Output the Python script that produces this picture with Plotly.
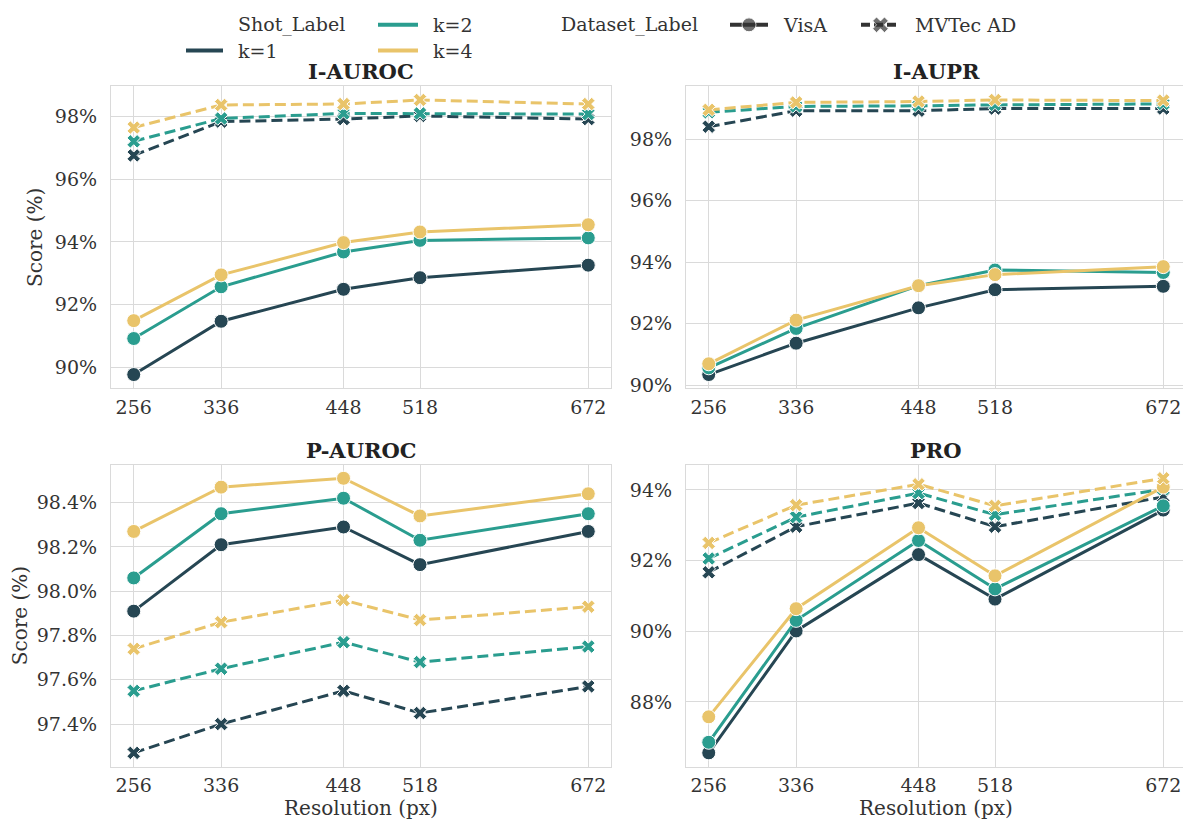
import plotly.graph_objects as go

# resolutions on the x axis
resolutions = [256, 336, 448, 518, 672]
shots = ["k=1", "k=2", "k=4"]
datasets = ["VisA", "MVTec AD"]
metrics = ["I-AUROC", "I-AUPR", "P-AUROC", "PRO"]

# I-AUROC
i_auroc_visa_k1 = [89.77, 91.47, 92.49, 92.86, 93.26]
i_auroc_visa_k2 = [90.92, 92.57, 93.68, 94.05, 94.13]
i_auroc_visa_k4 = [91.49, 92.95, 93.98, 94.32, 94.55]
i_auroc_mvtec_k1 = [96.76, 97.84, 97.92, 98.02, 97.92]
i_auroc_mvtec_k2 = [97.21, 97.94, 98.10, 98.10, 98.08]
i_auroc_mvtec_k4 = [97.65, 98.37, 98.40, 98.53, 98.40]

# I-AUPR
i_aupr_visa_k1 = [90.35, 91.37, 92.52, 93.11, 93.22]
i_aupr_visa_k2 = [90.57, 91.85, 93.24, 93.75, 93.67]
i_aupr_visa_k4 = [90.70, 92.12, 93.24, 93.60, 93.86]
i_aupr_mvtec_k1 = [98.41, 98.93, 98.93, 99.00, 99.00]
i_aupr_mvtec_k2 = [98.88, 99.07, 99.09, 99.12, 99.15]
i_aupr_mvtec_k4 = [98.96, 99.20, 99.23, 99.28, 99.26]

# P-AUROC
p_auroc_visa_k1 = [97.91, 98.21, 98.29, 98.12, 98.27]
p_auroc_visa_k2 = [98.06, 98.35, 98.42, 98.23, 98.35]
p_auroc_visa_k4 = [98.27, 98.47, 98.51, 98.34, 98.44]
p_auroc_mvtec_k1 = [97.27, 97.40, 97.55, 97.45, 97.57]
p_auroc_mvtec_k2 = [97.55, 97.65, 97.77, 97.68, 97.75]
p_auroc_mvtec_k4 = [97.74, 97.86, 97.96, 97.87, 97.93]

# PRO
pro_visa_k1 = [86.56, 90.01, 92.17, 90.91, 93.43]
pro_visa_k2 = [86.86, 90.31, 92.57, 91.20, 93.55]
pro_visa_k4 = [87.58, 90.64, 92.93, 91.57, 94.08]
pro_mvtec_k1 = [91.67, 92.96, 93.63, 92.96, 93.80]
pro_mvtec_k2 = [92.06, 93.23, 93.91, 93.30, 94.02]
pro_mvtec_k4 = [92.50, 93.57, 94.16, 93.55, 94.33]

table = {
    "I-AUROC": {"VisA": [i_auroc_visa_k1, i_auroc_visa_k2, i_auroc_visa_k4],
                "MVTec AD": [i_auroc_mvtec_k1, i_auroc_mvtec_k2, i_auroc_mvtec_k4]},
    "I-AUPR": {"VisA": [i_aupr_visa_k1, i_aupr_visa_k2, i_aupr_visa_k4],
               "MVTec AD": [i_aupr_mvtec_k1, i_aupr_mvtec_k2, i_aupr_mvtec_k4]},
    "P-AUROC": {"VisA": [p_auroc_visa_k1, p_auroc_visa_k2, p_auroc_visa_k4],
                "MVTec AD": [p_auroc_mvtec_k1, p_auroc_mvtec_k2, p_auroc_mvtec_k4]},
    "PRO": {"VisA": [pro_visa_k1, pro_visa_k2, pro_visa_k4],
            "MVTec AD": [pro_mvtec_k1, pro_mvtec_k2, pro_mvtec_k4]},
}

W, H = 1191, 828
FONT = "DejaVu Serif"
TXT = "#333333"
GRID = "#dadada"
colors = ["#264653", "#2a9d8f", "#e9c46a"]
style = {"VisA": dict(dash="solid", symbol="circle"),
         "MVTec AD": dict(dash="11px,5px", symbol="x")}

# panel frames in pixels (left, right, top, bottom)
frames = [(103, 603, 79, 384), (678, 1178, 79, 384),
          (103, 603, 461, 766), (678, 1178, 461, 766)]

fig = go.Figure()

for i, m in enumerate(metrics):
    n = i + 1
    xa = "x" if n == 1 else "x%d" % n
    ya = "y" if n == 1 else "y%d" % n
    for si in range(3):
        for d in datasets:
            fig.add_trace(go.Scatter(
                x=resolutions, y=table[m][d][si], xaxis=xa, yaxis=ya,
                mode="lines+markers", showlegend=False, hoverinfo="skip",
                line=dict(color=colors[si], width=3, dash=style[d]["dash"]),
                marker=dict(symbol=style[d]["symbol"], size=14 if d == "VisA" else 12,
                            color=colors[si], line=dict(color="white", width=1)),
            ))

    allv = [v for d in datasets for s in table[m][d] for v in s]
    lo, hi = min(allv), max(allv)
    pad = (hi - lo) * 0.05
    xpad = (resolutions[-1] - resolutions[0]) * 0.05
    l, r, t, b = frames[i]
    common = dict(showgrid=True, gridcolor=GRID, gridwidth=1, showline=True, linecolor=GRID,
                  linewidth=1.2, mirror=True, zeroline=False, ticks="",
                  tickfont=dict(family=FONT, size=19, color=TXT))
    xkey = "xaxis" if n == 1 else "xaxis%d" % n
    ykey = "yaxis" if n == 1 else "yaxis%d" % n
    fig.layout[xkey] = dict(
        domain=[l / W, r / W], anchor=ya, range=[resolutions[0] - xpad, resolutions[-1] + xpad],
        tickvals=resolutions, ticklabelstandoff=2,
        title=dict(text="Resolution (px)" if i >= 2 else "", font=dict(family=FONT, size=20, color=TXT),
                   standoff=2),
        **common)
    fig.layout[ykey] = dict(
        domain=[1 - b / H, 1 - t / H], anchor=xa, range=[lo - pad, hi + pad],
        dtick=0.2 if m == "P-AUROC" else 2, tickformat=".1f" if m == "P-AUROC" else ".0f",
        ticksuffix="%", ticklabelstandoff=9,
        title=dict(text="Score (%)" if i % 2 == 0 else "", font=dict(family=FONT, size=20, color=TXT),
                   standoff=6),
        **common)
    fig.add_annotation(x=(l + r) / 2 / W, y=1 - t / H, xref="paper", yref="paper",
                       text="<b>%s</b>" % m, showarrow=False, xanchor="center",
                       yanchor="bottom", yshift=0,
                       font=dict(family=FONT, size=21, color="#222222"))

# legend drawn on a hidden pixel-space axis
fig.layout["xaxis5"] = dict(domain=[0, 1], range=[0, W], visible=False, anchor="y5")
fig.layout["yaxis5"] = dict(domain=[1 - 70 / H, 1], range=[70, 0], visible=False, anchor="x5")

handles = [
    # (x0, x1, y, color, dash, symbol, label)
    (178, 215, 43, colors[0], "solid", None, "k=1"),
    (370, 410, 17, colors[1], "solid", None, "k=2"),
    (370, 410, 43, colors[2], "solid", None, "k=4"),
    (722, 760, 17, "#333333", "solid", "circle", "VisA"),
    (853, 892, 17, "#333333", "9px,4px", "x", "MVTec AD"),
]
for x0, x1, yy, c, dash, sym, lab in handles:
    fig.add_trace(go.Scatter(
        x=[x0, (x0 + x1) / 2, x1], y=[yy, yy, yy], xaxis="x5", yaxis="y5",
        mode="lines+markers" if sym else "lines", showlegend=False, hoverinfo="skip",
        line=dict(color=c, width=4, dash=dash),
        marker=dict(symbol=sym or "circle", size=[0, 14, 0], color=c,
                    line=dict(color="white", width=1)),
    ))
    fig.add_annotation(x=(x1 + 13) / W, y=1 - yy / H, xref="paper", yref="paper", text=lab,
                       showarrow=False, xanchor="left", yanchor="middle",
                       font=dict(family=FONT, size=19, color=TXT))

for lab, xx in [("Shot_Label", 228), ("Dataset_Label", 551)]:
    fig.add_annotation(x=xx / W, y=1 - 17 / H, xref="paper", yref="paper", text=lab,
                       showarrow=False, xanchor="left", yanchor="middle",
                       font=dict(family=FONT, size=19, color=TXT))

fig.update_layout(width=W, height=H, autosize=False, margin=dict(l=0, r=0, t=0, b=0),
                  paper_bgcolor="white", plot_bgcolor="white",
                  font=dict(family=FONT, color=TXT))

fig.write_html("out.html")
